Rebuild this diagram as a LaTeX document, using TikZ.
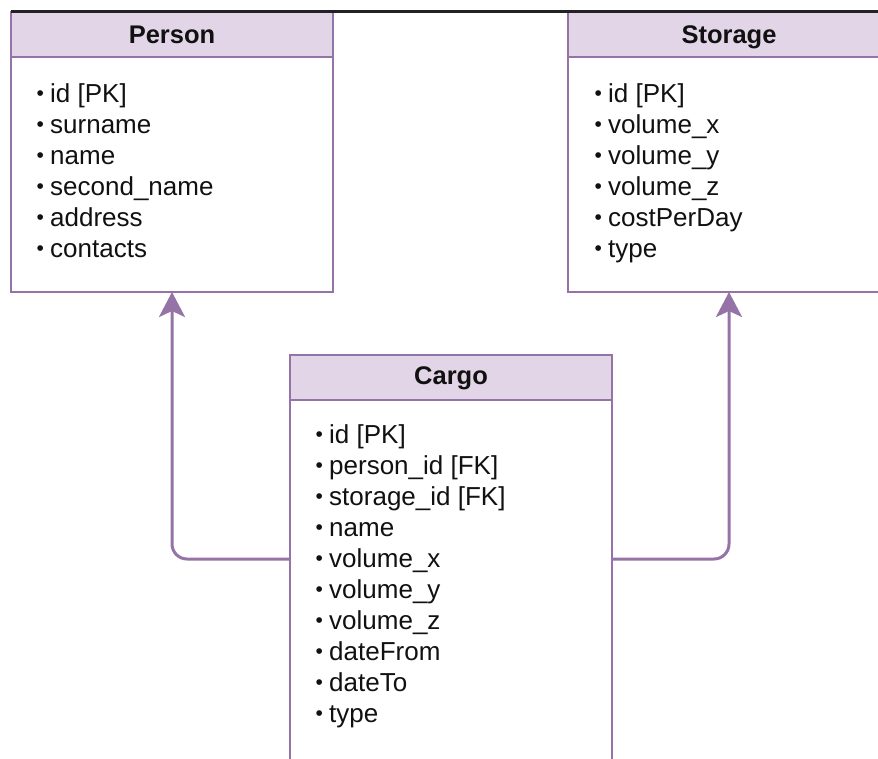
\documentclass[tikz,border=0pt]{standalone}
\usepackage{fontspec}
\setmainfont{Liberation Sans}
\usetikzlibrary{arrows.meta}
\definecolor{hdrfill}{HTML}{E1D5E7}
\definecolor{edge}{HTML}{9673A6}
\definecolor{ink}{HTML}{111111}
\definecolor{topline}{HTML}{222222}
\newcommand{\blt}{\makebox[16pt][l]{\kern2.5pt\raisebox{2pt}{\fontsize{21}{21}\selectfont\textbullet}}}
\begin{document}
\begin{tikzpicture}[x=1pt,y=-1pt,
  hdr/.style={draw=edge,line width=1.5pt,fill=hdrfill,minimum width=322pt,minimum height=45pt,inner sep=0pt,outer sep=0pt,anchor=north west},
  bodybox/.style={draw=edge,line width=1.5pt,fill=white,minimum width=322pt,inner sep=0pt,outer sep=0pt,anchor=north west},
  title/.style={font=\fontsize{25.5}{30}\selectfont\bfseries,text=ink,anchor=base,inner sep=0pt},
  item/.style={font=\fontsize{26}{31}\selectfont,text=ink,anchor=base west,inner sep=0pt},
  rel/.style={draw=edge,line width=3pt,rounded corners=15pt,-{Stealth[length=25pt,width=26pt,inset=6pt]}}
]
\clip (0,0) rectangle (878,758);
\fill[white] (0,0) rectangle (878,758);
% Person
\node[bodybox,minimum height=235pt] (personbody) at (11,57) {};
\node[hdr] (personhead) at (11,12) {};
\node[title] (persontitle) at (172,43) {Person};
\foreach \t [count=\i] in {{id [PK]},surname,name,second\_name,address,contacts}
  \node[item] (p\i) at (34,{102+31*(\i-1)}) {\blt\t};
% Storage
\node[bodybox,minimum height=235pt] (storagebody) at (568,57) {};
\node[hdr] (storagehead) at (568,12) {};
\node[title] (storagetitle) at (729,43) {Storage};
\foreach \t [count=\i] in {{id [PK]},volume\_x,volume\_y,volume\_z,costPerDay,type}
  \node[item] (s\i) at (592,{102+31*(\i-1)}) {\blt\t};
% Cargo
\node[bodybox,minimum height=400pt] (cargobody) at (290,400) {};
\node[hdr] (cargohead) at (290,355) {};
\node[title] (cargotitle) at (451,384) {Cargo};
\foreach \t [count=\i] in {{id [PK]},{person\_id [FK]},{storage\_id [FK]},name,volume\_x,volume\_y,volume\_z,dateFrom,dateTo,type}
  \node[item] (c\i) at (313,{443+31*(\i-1)}) {\blt\t};
% connectors
\draw[rel] ([yshift=41pt]cargobody.west) -| (personbody.south);
\draw[rel] ([yshift=41pt]cargobody.east) -| (storagebody.south);
% top edge line
\draw[topline,line width=3pt] (11,11.5) -- (878,11.5);
\end{tikzpicture}
\end{document}
